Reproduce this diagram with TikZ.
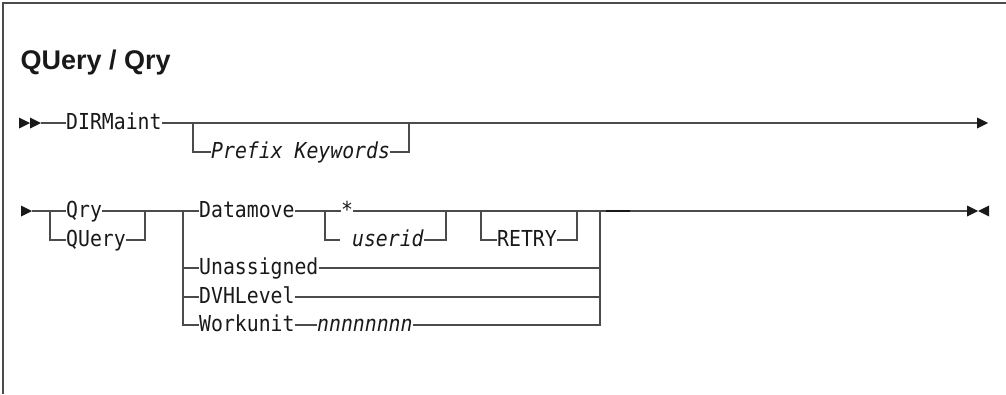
\documentclass[tikz,border=0pt]{standalone}
\usepackage{fontspec}
\newfontfamily\railfont[FakeStretch=0.9,ItalicFont={DejaVu Sans Mono Oblique}]{DejaVu Sans Mono}
\newfontfamily\headfont{Liberation Sans}
\definecolor{railgray}{RGB}{75,75,75}
\definecolor{ink}{RGB}{25,25,25}
\tikzset{
  rail/.style={draw=railgray,line width=1.3pt},
  frame/.style={draw=railgray,line width=1.4pt},
  kw/.style={font=\fontsize{22}{22}\railfont,text=ink,inner sep=0pt,anchor=west,
    text height=12pt,text depth=0pt},
  var/.style={kw,font=\fontsize{22}{22}\railfont\itshape},
  head/.style={fill=ink},
}
% right-pointing head, tip at #1 (x), rail at #2 (y)
\newcommand\headR[2]{\fill[head] (#1-11,#2-5.5) -- (#1,#2) -- (#1-11,#2+5.5) -- cycle;}
\newcommand\headL[2]{\fill[head] (#1+11,#2-5.5) -- (#1,#2) -- (#1+11,#2+5.5) -- cycle;}

\begin{document}
\begin{tikzpicture}[x=1pt,y=-1pt]
  \useasboundingbox (0,0) rectangle (1006,394);
  \draw[frame] (3,394) -- (3,3) -- (1006,3);
  \node[anchor=base west,font=\fontsize{27}{27}\headfont\bfseries,text=ink] (title) at (17,69) {QUery / Qry};

  % first line
  \node[kw] (dirm) at (66,123) {DIRMaint};
  \node[var] (pfx) at (211,152) {Prefix Keywords};
  \coordinate (r1s) at (41,123);
  \coordinate (p1) at (193,123);
  \coordinate (p2) at (409,123);
  \coordinate (r1e) at (980,123);
  \headR{30}{123} \headR{41}{123}
  \draw[rail] (r1s) -- (dirm.west);
  \draw[rail] (dirm.east) -- (r1e);
  \headR{988}{123}
  \draw[rail] (p1) |- (pfx.west);
  \draw[rail] (pfx.east) -| (p2);

  % second line
  \node[kw] (qry) at (66,211) {Qry};
  \node[kw] (query) at (66,240) {QUery};
  \node[kw] (datm) at (199,211) {Datamove};
  \node[kw] (unas) at (199,268) {Unassigned};
  \node[kw] (dvh) at (199,297) {DVHLevel};
  \node[kw] (wrk) at (199,325) {Workunit};
  \node[var] (nn) at (317,325) {nnnnnnnn};
  \node[kw] (star) at (341,211) {*};
  \node[var] (uid) at (340,240) {~userid};
  \node[kw] (rtry) at (497,240) {RETRY};
  \coordinate (r2s) at (32,211);
  \coordinate (q1) at (50,211);
  \coordinate (q2) at (145,211);
  \coordinate (d1) at (183,211);
  \coordinate (u1) at (325,211);
  \coordinate (u2) at (446,211);
  \coordinate (t1) at (481,211);
  \coordinate (t2) at (577,211);
  \coordinate (e1) at (600,211);
  \coordinate (k1) at (606,211);
  \coordinate (k2) at (630,211);
  \coordinate (r2e) at (968,211);
  \headR{32}{211}
  \draw[rail] (r2s) -- (q1) -- (qry.west);
  \draw[rail] (q1) |- (query.west);
  \draw[rail] (qry.east) -- (q2) -- (d1) -- (datm.west);
  \draw[rail] (query.east) -| (q2);
  \draw[rail] (d1) |- (unas.west);
  \draw[rail] (d1) |- (dvh.west);
  \draw[rail] (d1) |- (wrk.west);
  \draw[rail] (datm.east) -- (u1) -- (star.west);
  \draw[rail] (u1) |- (uid.west);
  \draw[rail] (star.east) -- (u2) -- (t1) -- (t2) -- (e1);
  \draw[rail] (uid.east) -| (u2);
  \draw[rail] (t1) |- (rtry.west);
  \draw[rail] (rtry.east) -| (t2);
  \draw[rail] (unas.east) -| (e1);
  \draw[rail] (dvh.east) -| (e1);
  \draw[rail] (wrk.east) -- (nn.west);
  \draw[rail] (nn.east) -| (e1);
  \draw[rail] (e1) -- (k1);
  \draw[rail,draw=ink,line width=1.8pt] (k1) -- (k2);
  \draw[rail] (k2) -- (r2e);
  \headR{978}{211} \headL{978}{211}
\end{tikzpicture}
\end{document}
